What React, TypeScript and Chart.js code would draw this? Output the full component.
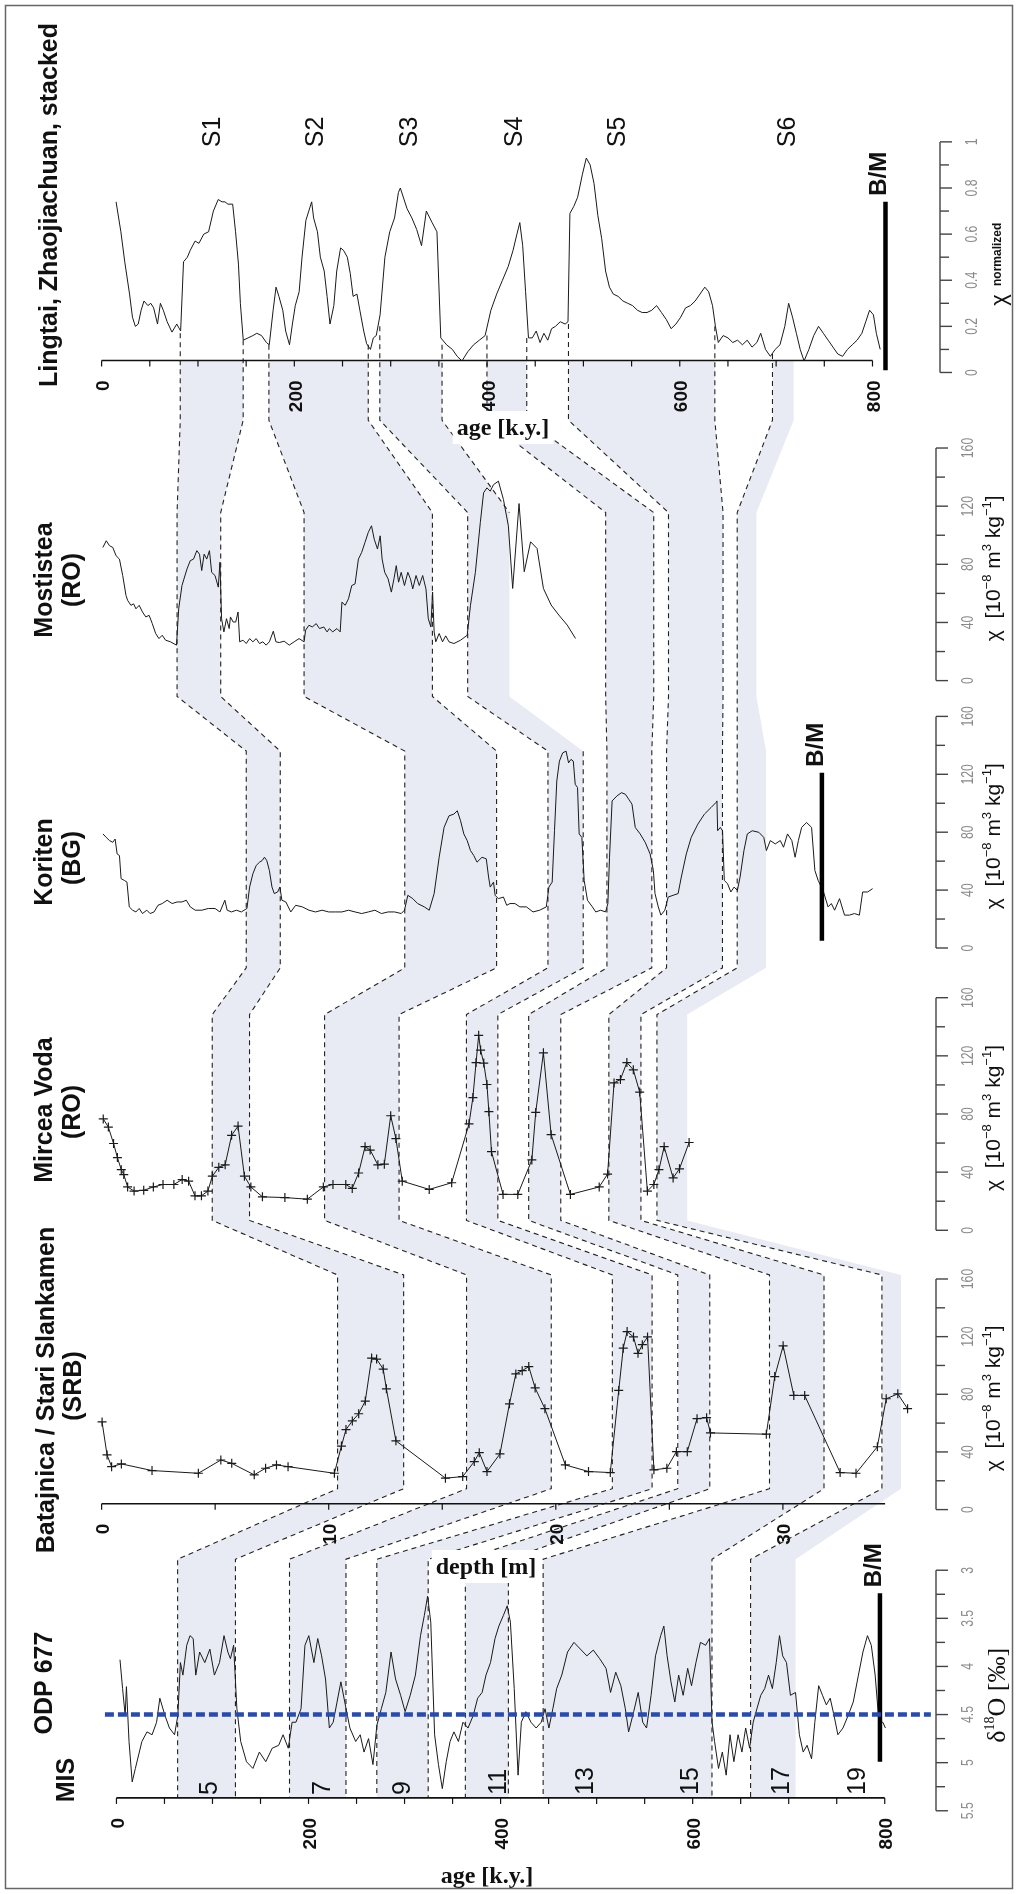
import React, { useEffect, useRef } from 'react';
import { Chart, registerables } from 'chart.js';

Chart.register(...registerables);

const W = 1018;
const H = 1894;
const SANS = '"Liberation Sans", Arial, Helvetica, sans-serif';
const SERIF = '"Liberation Serif", "Times New Roman", Times, serif';

// ---------------- series (x, value) ----------------
// Lingtai / Zhaojiachuan stack: age [k.y.], chi normalized
const lingtai: number[][] = [[15,0.74],[20,0.61],[24,0.48],[29,0.34],[32,0.24],[35,0.2],[38,0.21],[41,0.27],[44,0.31],[48,0.29],[51,0.3],[54,0.28],[58,0.21],[61,0.3],[64,0.27],[68,0.22],[73,0.175],[78,0.21],[82,0.18],[85,0.48],[89,0.5],[92,0.53],[97,0.57],[101,0.56],[106,0.6],[111,0.61],[116,0.7],[121,0.75],[125,0.74],[128,0.74],[131,0.73],[136,0.73],[139,0.61],[142,0.47],[144,0.3],[147,0.14],[152,0.15],[157,0.16],[161,0.17],[166,0.16],[171,0.13],[174,0.12],[178,0.27],[181,0.37],[184,0.33],[188,0.27],[191,0.18],[195,0.12],[198,0.21],[201,0.29],[205,0.35],[208,0.5],[212,0.66],[215,0.7],[218,0.74],[220,0.67],[224,0.61],[227,0.5],[231,0.44],[234,0.33],[237,0.21],[241,0.29],[244,0.44],[248,0.54],[251,0.53],[255,0.5],[258,0.43],[261,0.33],[265,0.34],[268,0.27],[272,0.18],[275,0.125],[279,0.1],[282,0.15],[285,0.16],[289,0.25],[294,0.5],[299,0.61],[304,0.67],[308,0.78],[310,0.8],[317,0.71],[322,0.67],[327,0.62],[332,0.55],[337,0.7],[343,0.65],[348,0.61],[352,0.15],[358,0.12],[364,0.1],[369,0.07],[374,0.05],[380,0.09],[386,0.12],[392,0.14],[398,0.16],[404,0.27],[410,0.34],[416,0.4],[422,0.46],[427,0.53],[431,0.6],[434,0.65],[437,0.55],[440,0.35],[443,0.15],[447,0.15],[451,0.18],[455,0.13],[459,0.17],[463,0.14],[467,0.19],[471,0.2],[476,0.22],[481,0.21],[484,0.22],[486,0.69],[490,0.72],[494,0.76],[499,0.86],[503,0.93],[507,0.9],[511,0.82],[515,0.68],[519,0.58],[523,0.44],[527,0.37],[531,0.34],[536,0.33],[541,0.31],[546,0.3],[551,0.29],[556,0.27],[561,0.26],[566,0.26],[571,0.27],[576,0.29],[581,0.26],[586,0.23],[591,0.19],[596,0.21],[601,0.24],[606,0.28],[611,0.29],[616,0.31],[621,0.34],[626,0.37],[630,0.35],[634,0.29],[637,0.2],[640,0.13],[645,0.16],[650,0.15],[655,0.13],[660,0.14],[665,0.12],[670,0.14],[675,0.11],[680,0.13],[684,0.17],[689,0.1],[694,0.07],[699,0.1],[704,0.12],[709,0.2],[713,0.3],[717,0.24],[721,0.17],[725,0.1],[729,0.05],[734,0.1],[739,0.16],[744,0.2],[749,0.17],[754,0.14],[759,0.11],[764,0.08],[769,0.07],[774,0.1],[779,0.12],[784,0.14],[789,0.17],[793,0.22],[797,0.27],[801,0.25],[804,0.17],[808,0.1]];

// Mostistea (RO): position along section, chi [1e-8 m3/kg]
const mostistea: number[][] = [[1.3,91.6],[4.8,96.2],[8.2,92.8],[11.6,91.6],[15,85.9],[18.5,83.6],[21.9,72.3],[25.3,58.6],[27,55.2],[30.4,51.8],[33.2,52.8],[35.6,49.4],[39,51.8],[42.4,47.2],[45.9,43.8],[49.3,44.9],[52.6,39.2],[56.1,32.4],[59.5,28.9],[62.9,31.2],[66.4,27.8],[71.5,26.7],[77.7,24.4],[80,49.4],[83.4,65.4],[88.6,76.8],[92,82.5],[95.4,83.6],[98.8,89.4],[101.6,87],[103.9,75.7],[106.4,87],[109.1,83.6],[111.9,89.4],[114.2,74.5],[117.7,72.3],[121.1,64.3],[122.8,81.4],[124.5,42.6],[126.9,33.5],[129.6,42.6],[132.4,35.8],[133.7,43.8],[136.5,40.3],[139.2,40.3],[141.6,47.2],[143.3,26.7],[146.7,27.8],[150.1,25.5],[153.6,28.9],[157,26.7],[160.4,28.9],[163.9,25.5],[167.3,26.7],[170.7,24.4],[174.1,26.7],[178.2,34],[180.9,26.7],[184.4,26.2],[189.5,27.1],[194.7,24.4],[199.8,26.7],[204.9,28.9],[210.1,26.7],[211.7,34.7],[215.2,38.1],[218.6,36.9],[222.7,39.2],[226.1,35.8],[230.6,36.9],[234,33.5],[236.4,35.8],[239.8,33.5],[244.2,35.8],[247.6,33.5],[249.4,54],[252.8,51.8],[256.2,56.3],[259.6,65.4],[263,66.5],[266.5,83.6],[269.9,88.2],[273.3,95],[276.7,101.9],[280.1,106.5],[282.9,97.3],[286.3,90.5],[289.1,99.6],[291.1,83.6],[293.8,74.5],[297.3,70],[300.7,60.9],[303.4,70],[305.8,79.1],[308.2,67.7],[310.9,74.5],[314.3,65.4],[317.8,74.5],[320.5,70],[322.9,63.1],[326.3,72.3],[329.7,65.4],[333.2,72.3],[336.6,63.1],[339,42.6],[341.7,36.9],[343.5,60.9],[345.1,33.5],[346.8,26.7],[350.3,32.4],[353.8,26.7],[357.1,30.8],[360.5,26.7],[365.6,25.5],[372.5,27.8],[379.4,31.2],[382.8,51.8],[387.9,74.5],[393,108.7],[396.4,129.2],[399.9,132.6],[403.3,130.3],[406.7,134.8],[411.8,137.2],[417,124.6],[422.1,106.5],[426.6,63.4],[433.2,121.8],[438.6,74.9],[445.2,95.5],[451.9,90.9],[458.5,63.4],[466.5,52],[474.5,45.1],[483.2,38.2],[491.8,29]];

// Koriten (BG)
const koriten: number[][] = [[1.4,78.8],[4.8,76.4],[8.2,74.2],[11.6,73],[14,75.3],[16.1,65],[18.5,63.9],[20.2,47.9],[23.6,46.7],[26.3,45.5],[28.7,28.4],[32.2,26.1],[35.6,24.9],[39,27.3],[42.4,23.8],[46.9,26.1],[50.3,23.8],[54.4,24.9],[58.5,29.5],[62.9,30.7],[68,33],[73.2,30.7],[78.3,31.8],[83.4,31.8],[87.9,33],[92,28.4],[97.2,26.1],[104,26.1],[110.8,27.3],[117.7,27.3],[122.8,24.9],[127.9,33],[130.3,26.1],[134.7,24.9],[139.9,26.1],[145,24.9],[150.8,27.3],[153.6,42.1],[157,51.3],[160.4,57],[163.9,59.3],[166.6,60.4],[169,62.7],[171.4,60.4],[174.1,53.6],[176.8,42.1],[179.2,37.6],[182.7,38.7],[185,42.1],[187.1,33],[191.2,31.8],[196.3,24.9],[201.4,29.5],[208.3,28.4],[215.2,26.1],[222,24.9],[228.8,26.1],[235.7,24.9],[242.5,24.9],[249.4,24.9],[256.2,26.1],[263,24.9],[269.9,23.8],[276.8,24.9],[283.6,26.1],[290.4,23.8],[297.3,24.9],[304.1,24.9],[310.9,23.8],[314.3,26.1],[317.8,36.4],[322.9,34.1],[328,30.7],[334.9,28.4],[340,26.1],[345.1,37.6],[350.3,62.7],[355.4,83.3],[360.5,91.3],[365.6,92.5],[369.1,94.8],[372.5,87.9],[375.9,78.8],[379.4,74.2],[382.8,67.3],[386.2,63.9],[389.6,59.3],[394.8,62.7],[399.2,61.6],[401.6,49],[403.3,42.1],[406.7,45.5],[408.4,36.4],[411.8,34.1],[417,35.2],[420.4,29.5],[423.8,30.7],[428.9,30.7],[434.1,28.4],[440.9,28.4],[447.7,24.9],[454.6,26.1],[461.5,28.4],[464.2,42.1],[467.6,45.5],[470,81],[472.4,115.4],[475.1,129.1],[478.5,134.8],[482,136],[484.6,127.9],[487.1,130.3],[489.5,129.1],[491.5,113.1],[493.9,110.8],[495.6,78.8],[498.4,76.4],[500.8,46.7],[504.2,33],[509.3,28.4],[512.8,24.9],[517.9,26.1],[523,24.9],[525.4,30.7],[527.1,62.7],[529.8,101.6],[534.9,105.1],[539.5,107.3],[543.6,106.2],[547,102.8],[550.4,99.4],[553.8,83.3],[558.9,78.8],[564.1,73],[569.2,65],[572.6,53.6],[574.3,37.6],[577.7,28.4],[580.4,22.7],[584.5,26.1],[588,35.2],[593.1,36.4],[598.3,37.6],[601.6,49],[606.8,65],[611.9,76.4],[618.8,85.6],[625.6,92.5],[632.4,97],[637.6,100.5],[638.6,101.6],[639.3,81],[642.1,83.3],[644.4,81],[646.2,46.7],[649.6,44.4],[653,38.7],[656.4,42.1],[659.8,39.8],[662.6,49],[666.6,67.3],[670.1,78.8],[675.2,81],[682.1,79.9],[687.2,76.4],[689.9,67.3],[694,74.2],[699.1,71.9],[704.3,74.2],[707.7,69.6],[711.8,78.8],[716.3,74.2],[719.7,62.7],[723.1,74.2],[726.5,83.3],[731.6,86.7],[736.8,83.3],[740.2,53.6],[743.6,46.7],[748.7,39.8],[753.9,28.4],[757.3,30.7],[760.7,26.1],[765.8,34.1],[771,22.7],[776.1,22.7],[781.2,23.8],[786.4,22.7],[789.8,38.7],[795,38.7],[800.1,41]];

// Mircea Voda (RO)
const mircea: number[][] = [[1.7,76.6],[7,71],[12.4,59.7],[16.4,50],[20.4,41.7],[23,38.3],[27,29.8],[33.7,27],[43.7,27.5],[53.7,29.8],[63.7,31.5],[75,31.5],[83.6,34.9],[90.3,33.8],[96.9,23.7],[103.6,23.7],[110.3,27],[114.9,37.2],[121.6,43.3],[128.2,45],[134.9,65.3],[141.6,71.7],[148.2,37.2],[154.9,29.8],[166.9,23],[190.2,22.5],[213.5,21.4],[230.1,29.8],[240.1,31.5],[253.4,31.5],[260.1,28.8],[266.7,39.4],[273.4,57.5],[278.7,55.2],[286.7,45],[293.4,45.5],[300,78.8],[305.4,63.1],[312,33.8],[340,28.1],[363.3,32.7],[381.3,73.2],[385.3,91.3],[388.6,115.4],[391.3,134.1],[393.3,124],[396.6,115],[399.9,100.3],[401.9,81.6],[404.6,54.1],[416.6,24.7],[431.9,24.7],[446.5,48.4],[450.5,81.1],[458.5,122.1],[466.5,65.8],[486.5,24.7],[516.4,29.8],[525.1,38.7],[531.8,101.4],[538.4,103.7],[545.1,115.4],[551.8,110.4],[558.4,95.1],[566.4,27],[573.1,31.5],[578.4,41.7],[583.8,57.5],[593.1,36],[599.7,42.3],[609.7,60.4]];

// Batajnica / Stari Slankamen (SRB): depth [m]
const batajnica: number[][] = [[0.02,60.8],[0.24,37.9],[0.44,29.8],[0.87,31.7],[2.22,27.1],[4.26,25.2],[5.25,34.4],[5.73,32.1],[6.72,24.1],[7.22,28.7],[7.7,31],[8.21,29.8],[10.25,25.2],[10.56,44.1],[10.76,55.5],[11.04,61.5],[11.32,66.5],[11.61,75.3],[11.89,105.1],[12.11,104.4],[12.4,97.5],[12.54,83.8],[12.96,47.7],[15.14,21.8],[15.9,22.9],[16.41,33.3],[16.63,39.5],[16.97,26.4],[17.54,38.6],[17.96,73.4],[18.24,94.1],[18.52,96.4],[18.81,99.2],[19.09,84.4],[19.52,70],[20.42,31],[21.44,26.4],[22.4,25.7],[22.77,82.7],[22.97,112],[23.14,123.5],[23.42,119.8],[23.62,108.4],[23.81,114.4],[24.04,119.8],[24.32,27.6],[24.89,28.7],[25.31,40.2],[25.79,40.2],[26.22,63.1],[26.64,63.8],[26.81,53.2],[29.27,52.3],[29.64,92.3],[30.01,113.6],[30.48,79.2],[30.96,79.2],[32.52,25.7],[33.22,25.2],[34.16,43.6],[34.55,76.9],[35.06,80.3],[35.49,70]];

// ODP 677: age [k.y.], d18O [permil]
const odp677: number[][] = [[3.7,3.93],[6.4,4.23],[9.1,4.51],[10.4,4.21],[13.1,4.78],[16.4,5.2],[19.7,5.06],[23.1,4.92],[26.5,4.78],[31.8,4.68],[37.1,4.71],[41.8,4.58],[45.2,4.33],[50.5,4.51],[55.2,4.64],[60.5,4.71],[63.9,4.51],[66.6,3.96],[69.2,4.09],[73.2,3.78],[76.6,3.68],[79.9,3.71],[82.6,4.09],[86.6,3.85],[92,3.96],[97.3,3.82],[102,4.09],[107.3,3.96],[112,3.68],[116,3.85],[118.7,3.92],[122,3.78],[125.4,4.44],[129.4,4.78],[135.4,4.99],[142.1,5.06],[148.8,4.89],[155.5,4.99],[162.2,4.85],[168.9,4.82],[173.5,4.71],[178.9,4.85],[182.9,4.58],[186.9,4.58],[192.2,4.44],[196.3,3.78],[200.3,3.68],[205.6,3.96],[209.6,3.71],[213.6,3.89],[217.7,4.13],[221.7,4.64],[225.7,4.58],[229.7,4.37],[233.7,4.16],[239.1,4.44],[243.1,4.64],[249.1,4.78],[253.8,4.71],[257.8,4.89],[262.5,4.75],[267.1,5.02],[271.2,4.61],[275.8,4.44],[280.5,4.27],[285.9,3.85],[290.6,4.13],[295.9,4.3],[300.6,4.47],[305.9,4.3],[311.3,4.09],[316.6,3.68],[320.6,3.47],[324,3.27],[327.3,3.54],[331.3,4.71],[335.3,5.02],[339.3,5.27],[343.4,4.99],[347.4,4.78],[351.4,4.68],[356.1,4.78],[360.8,4.58],[366.1,4.64],[371.5,4.51],[376.1,4.33],[380.8,4.27],[384.8,4.09],[389.5,3.96],[394.2,3.71],[398.2,3.58],[402.9,3.47],[406.9,3.37],[410.2,3.54],[414.2,4.23],[418.2,5.13],[421.6,4.58],[426.3,4.47],[431.6,4.58],[437,4.64],[442.3,4.58],[446.3,4.44],[450.3,4.64],[454.4,4.44],[458.4,4.23],[463.7,4.09],[469.7,3.85],[476.4,3.75],[483.1,3.82],[489.8,3.89],[496.5,3.83],[503.2,3.92],[509.8,4.02],[514.5,4.27],[519.9,4.06],[525.2,4.2],[529.9,4.44],[533.3,4.68],[538.6,4.47],[543.3,4.27],[548,4.58],[552,4.64],[556.7,4.3],[561.3,3.89],[566.7,3.68],[570,3.58],[573.4,3.89],[577.4,4.16],[581.4,4.37],[585.4,4.09],[590.1,4.3],[594.8,4.02],[598.8,4.2],[603.4,3.96],[608.1,3.75],[613.5,3.78],[617.5,3.71],[620.2,4.58],[622.8,4.78],[626.9,5.06],[630.9,4.89],[634.9,5.13],[638.9,4.71],[642.9,4.99],[647.3,4.71],[651.3,4.89],[655.2,4.64],[659.3,4.85],[663,4.58],[666.9,4.44],[670.9,4.3],[675,4.23],[679,4.09],[683,4.23],[687,3.96],[690.4,3.68],[693.7,3.89],[697.7,3.96],[701.8,4.3],[707.1,4.27],[711.1,4.71],[715.1,4.89],[719.1,4.82],[723.8,4.96],[727.2,4.58],[731.2,4.2],[735.2,4.3],[739.2,4.4],[743.2,4.33],[747.2,4.51],[751.2,4.71],[756.5,4.64],[761.9,4.51],[767.2,4.37],[772.6,4.09],[777.3,3.85],[782,3.68],[786,3.78],[790,4.09],[794,4.58],[798,4.58],[800.7,4.64]];

// reference lines
const odpThreshold: number[][] = [[-12, 4.5], [848, 4.5]];
const bmLingtai: number[][] = [[813.5, 0.74], [813.5, 0.01]];
const bmKoriten: number[][] = [[747.5, 121], [747.5, 5]];
const bmOdp: number[][] = [[795, 3.24], [795, 4.99]];

// tick labels / annotations
const ageTicks = [0, 200, 400, 600, 800];
const depthTicks = [0, 10, 20, 30];
const soilLabels = ['S1', 'S2', 'S3', 'S4', 'S5', 'S6'];
const soilLabelAge = [113, 220, 317, 426, 533, 710];
const misLabels = ['5', '7', '9', '11', '13', '15', '17', '19'];
const misLabelAge = [95, 212, 296, 396, 486, 596, 690, 770];

// correlation boundaries at each panel: [Lingtai, Mostistea, Koriten, Mircea Voda, Batajnica(depth), ODP 677(age)]
const tieS1Left = [81.6, 78.3, 150.1, 114.8, 10.39, 63.7];
const tieS1Right = [146.9, 123.6, 185.4, 153.5, 13.3, 123.9];
const tieS2Left = [173.6, 210.1, 314.6, 231.4, 16.07, 180.2];
const tieS2Right = [276.7, 343.3, 409.9, 308.7, 19.8, 239.0];
const tieS3Left = [288.7, 379.9, 463.2, 378.6, 22.49, 271.1];
const tieS3Right = [353.3, 423.2, 499.8, 411.2, 24.24, 324.6];
const tieS4Left = [399.9, 523.1, 524.4, 443.2, 25.37, 363.3];
const tieS4Right = [441.2, 573.0, 571.0, 476.5, 26.78, 408.1];
const tieS5Left = [484.5, 588.3, 586.3, 526.4, 29.41, 444.3];
const tieS5Right = [636.4, 644.9, 644.3, 559.7, 31.81, 620.1];
const tieS6Left = [696.2, 659.6, 659.6, 576.3, 34.36, 660.3];
const tieS6Right = [718.2, 679.6, 689.6, 607.7, 35.2, 707.1];
// where the dashed ties leave the Lingtai curve
const lingtaiTieStart = [0.17, 0.14, 0.12, 0.12, 0.2, 0.12, 0.16, 0.15, 0.21, 0.2, 0.08, 0.1];

// ---------------- layout (pixels / axis levels) ----------------
const LINGTAI_AXIS_AT = 0.052;
const BATAJNICA_AXIS_AT = 4.1;
const ODP_AXIS_AT = 5.366;
const tieTop = [LINGTAI_AXIS_AT, 115.6, 136, 148.4, 162.8, 2.886];
const tieBottom = [-0.207, -10.9, -13.7, 6.8, 14.5, ODP_AXIS_AT];
const PANEL_X = ['xL', 'xL', 'xL', 'xL', 'xB', 'xO'];
const PANEL_Y = ['yL', 'yM', 'yK', 'yV', 'yB', 'yO'];
const BAND = '#e8ebf3';

function xRange(v0: number, p0: number, v1: number, p1: number) {
  const s = (p1 - p0) / (v1 - v0);
  const min = v0 - p0 / s;
  return { min, max: min + W / s };
}
function yRange(v0: number, p0: number, v1: number, p1: number) {
  const s = (p0 - p1) / (v1 - v0);
  const max = v0 + p0 / s;
  return { min: max - H / s, max };
}
function yRangeRev(v0: number, p0: number, v1: number, p1: number) {
  const s = (p1 - p0) / (v1 - v0);
  const min = v0 - p0 / s;
  return { min, max: min + H / s };
}

const pts = (a: number[][]) => a.map(([x, y]) => ({ x, y }));

function rotText(ctx: any, text: string, x: number, y: number, font: string, align: string = 'center', color = '#111', sx = 1) {
  ctx.save();
  ctx.translate(x, y);
  ctx.rotate(-Math.PI / 2);
  if (sx !== 1) ctx.scale(sx, 1);
  ctx.font = font;
  ctx.fillStyle = color;
  ctx.textAlign = align;
  ctx.textBaseline = 'alphabetic';
  ctx.fillText(text, 0, 0);
  ctx.restore();
}

function rotRuns(ctx: any, runs: any[], x: number, y: number) {
  ctx.save();
  ctx.translate(x, y);
  ctx.rotate(-Math.PI / 2);
  ctx.textAlign = 'left';
  ctx.textBaseline = 'alphabetic';
  const widths = runs.map((r) => { ctx.font = r.font; return ctx.measureText(r.text).width; });
  let cx = -widths.reduce((a: number, b: number) => a + b, 0) / 2;
  runs.forEach((r, i) => {
    ctx.font = r.font;
    ctx.fillStyle = '#111';
    ctx.fillText(r.text, cx, r.dy || 0);
    cx += widths[i];
  });
  ctx.restore();
}

const chiRuns = [
  { text: 'χ  [10', font: `21px ${SANS}` },
  { text: '−8', font: `13px ${SANS}`, dy: -9 },
  { text: ' m', font: `21px ${SANS}` },
  { text: '3', font: `13px ${SANS}`, dy: -9 },
  { text: ' kg', font: `21px ${SANS}` },
  { text: '−1', font: `13px ${SANS}`, dy: -9 },
  { text: ']', font: `21px ${SANS}` },
];
const d18ORuns = [
  { text: 'δ', font: `26px ${SERIF}` },
  { text: '18', font: `14px ${SERIF}`, dy: -11 },
  { text: 'O [‰]', font: `26px ${SERIF}` },
];

function bottomAxis(ctx: any, xs: any, yPx: number, from: number, to: number, minor: number, labels: number[]) {
  ctx.save();
  ctx.strokeStyle = '#111';
  ctx.lineWidth = 1.6;
  ctx.beginPath();
  ctx.moveTo(xs.getPixelForValue(from), yPx);
  ctx.lineTo(xs.getPixelForValue(to), yPx);
  ctx.stroke();
  ctx.lineWidth = 1.2;
  const n = Math.floor((to - from) / minor + 1e-6);
  for (let i = 0; i <= n; i++) {
    const x = xs.getPixelForValue(from + i * minor);
    ctx.beginPath();
    ctx.moveTo(x, yPx);
    ctx.lineTo(x, yPx + 6);
    ctx.stroke();
  }
  ctx.restore();
  labels.forEach((v) => rotText(ctx, String(v), xs.getPixelForValue(v) + 7.5, yPx + 20, `bold 19px ${SANS}`, 'right'));
}

function rightAxis(ctx: any, ys: any, xPx: number, from: number, to: number, minor: number, every: number, fmt: (v: number) => string) {
  const n = Math.round((to - from) / minor);
  ctx.save();
  ctx.strokeStyle = '#444';
  ctx.lineWidth = 1.4;
  ctx.beginPath();
  ctx.moveTo(xPx, ys.getPixelForValue(from));
  ctx.lineTo(xPx, ys.getPixelForValue(to));
  ctx.stroke();
  for (let i = 0; i <= n; i++) {
    const v = from + i * minor;
    const y = ys.getPixelForValue(v);
    const major = i % every === 0;
    ctx.beginPath();
    ctx.moveTo(xPx, y);
    ctx.lineTo(xPx + (major ? 12 : 9), y);
    ctx.stroke();
    if (major) rotText(ctx, fmt(v), xPx + 37, y, `17px ${SANS}`, 'center', '#8a8a8a', 0.72);
  }
  ctx.restore();
}

function boxedText(ctx: any, text: string, cx: number, baseY: number) {
  ctx.save();
  ctx.font = `bold 24px ${SERIF}`;
  const w = ctx.measureText(text).width;
  ctx.fillStyle = '#fff';
  ctx.fillRect(cx - w / 2 - 4, baseY - 24, w + 8, 33);
  ctx.fillStyle = '#111';
  ctx.textAlign = 'center';
  ctx.textBaseline = 'alphabetic';
  ctx.fillText(text, cx, baseY);
  ctx.restore();
}

const tieBoundaries = [tieS1Left, tieS1Right, tieS2Left, tieS2Right, tieS3Left, tieS3Right, tieS4Left, tieS4Right, tieS5Left, tieS5Right, tieS6Left, tieS6Right];
const tieHiddenSegments: Record<number, number[]> = { 5: [2, 3], 11: [0, 1, 2, 3, 4, 5, 6, 7, 8, 9, 10] };

function tiePixels(chart: any, vals: number[], tops: number[]) {
  const out: { x: number; y: number }[] = [];
  vals.forEach((v, i) => {
    const xs = chart.scales[PANEL_X[i]];
    const ys = chart.scales[PANEL_Y[i]];
    const px = xs.getPixelForValue(v);
    out.push({ x: px, y: ys.getPixelForValue(tops[i]) });
    out.push({ x: px, y: ys.getPixelForValue(tieBottom[i]) });
  });
  return out;
}

const figurePlugin = {
  id: 'figure',
  beforeDatasetsDraw(chart: any) {
    const ctx = chart.ctx;
    // shaded soil bands
    ctx.save();
    ctx.fillStyle = BAND;
    for (let b = 0; b < 6; b++) {
      const l = tiePixels(chart, tieBoundaries[2 * b], tieTop);
      const r = tiePixels(chart, tieBoundaries[2 * b + 1], tieTop).reverse();
      ctx.beginPath();
      [...l, ...r].forEach((p, i) => (i === 0 ? ctx.moveTo(p.x, p.y) : ctx.lineTo(p.x, p.y)));
      ctx.closePath();
      ctx.fill();
    }
    ctx.restore();
    // dashed correlation lines
    ctx.save();
    ctx.strokeStyle = '#222';
    ctx.lineWidth = 1.1;
    ctx.setLineDash([5, 4]);
    tieBoundaries.forEach((vals, bi) => {
      const tops = [lingtaiTieStart[bi], ...tieTop.slice(1)];
      const p = tiePixels(chart, vals, tops);
      const hidden = tieHiddenSegments[bi] || [];
      ctx.beginPath();
      let open = false;
      for (let k = 0; k < p.length - 1; k++) {
        if (hidden.includes(k)) { open = false; continue; }
        if (!open) { ctx.moveTo(p[k].x, p[k].y); open = true; }
        ctx.lineTo(p[k + 1].x, p[k + 1].y);
      }
      ctx.stroke();
    });
    ctx.restore();
  },
  afterDatasetsDraw(chart: any) {
    const ctx = chart.ctx;
    const s = chart.scales;
    // horizontal axes
    bottomAxis(ctx, s.xL, s.yL.getPixelForValue(LINGTAI_AXIS_AT), 0, 800, 50, ageTicks);
    bottomAxis(ctx, s.xB, s.yB.getPixelForValue(BATAJNICA_AXIS_AT), 0, 34.5, 5, depthTicks);
    bottomAxis(ctx, s.xO, s.yO.getPixelForValue(ODP_AXIS_AT), 0, 800, 50, ageTicks);
    // value axes
    const fmt1 = (v: number) => (Math.abs(v - Math.round(v)) < 1e-6 ? String(Math.round(v)) : v.toFixed(1));
    rightAxis(ctx, s.yL, 940, 0, 1, 0.1, 2, fmt1);
    rightAxis(ctx, s.yM, 936, 0, 160, 20, 2, fmt1);
    rightAxis(ctx, s.yK, 936, 0, 160, 20, 2, fmt1);
    rightAxis(ctx, s.yV, 936, 0, 160, 20, 2, fmt1);
    rightAxis(ctx, s.yB, 936, 0, 160, 20, 2, fmt1);
    rightAxis(ctx, s.yO, 936, 3, 5.5, 0.25, 2, fmt1);
    // axis titles on the right
    rotText(ctx, 'χ', 1006, 300, `22px ${SANS}`, 'center');
    rotText(ctx, 'normalized', 1001, 286, `bold 12px ${SANS}`, 'left');
    [s.yM, s.yK, s.yV, s.yB].forEach((ys: any) => rotRuns(ctx, chiRuns, 1000, ys.getPixelForValue(80) + 4));
    rotRuns(ctx, d18ORuns, 1005, s.yO.getPixelForValue(4.3));
    // panel titles
    const TF = `bold 25px ${SANS}`;
    rotText(ctx, 'Lingtai, Zhaojiachuan, stacked', 57, 205, TF);
    rotText(ctx, 'Mostistea', 52, 580, TF);
    rotText(ctx, '(RO)', 80, 580, TF);
    rotText(ctx, 'Koriten', 52, 862, TF);
    rotText(ctx, '(BG)', 80, 858, TF);
    rotText(ctx, 'Mircea Voda', 52, 1110, TF);
    rotText(ctx, '(RO)', 80, 1112, TF);
    rotText(ctx, 'Batajnica / Stari Slankamen', 54, 1390, TF);
    rotText(ctx, '(SRB)', 81, 1386, TF);
    rotText(ctx, 'ODP 677', 52, 1683, TF);
    rotText(ctx, 'MIS', 74, 1780, TF);
    // soil labels
    soilLabels.forEach((t, i) => rotText(ctx, t, s.xL.getPixelForValue(soilLabelAge[i]) + 9.5, 132, `25px ${SANS}`, 'center'));
    // MIS numbers
    const odpAxisY = s.yO.getPixelForValue(ODP_AXIS_AT);
    misLabels.forEach((t, i) => rotText(ctx, t, s.xO.getPixelForValue(misLabelAge[i]) + 9.5, odpAxisY - 3, `25px ${SANS}`, 'left'));
    // B/M labels
    const bm = (xs: any, ys: any, line: number[][]) => {
      const x = xs.getPixelForValue(line[0][0]);
      const y = ys.getPixelForValue(line[0][1]);
      rotText(ctx, 'B/M', x + 1, y - 6, `bold 24px ${SANS}`, 'left');
    };
    bm(s.xL, s.yL, bmLingtai);
    bm(s.xL, s.yK, bmKoriten);
    bm(s.xO, s.yO, bmOdp);
    // axis names
    boxedText(ctx, 'age [k.y.]', 503, 435);
    boxedText(ctx, 'depth [m]', 486, 1574);
    boxedText(ctx, 'age [k.y.]', 487, 1883);
    // frame
    ctx.save();
    ctx.strokeStyle = '#666';
    ctx.lineWidth = 1.5;
    ctx.strokeRect(5.5, 5.5, W - 11, H - 11);
    ctx.restore();
  },
};

const series = (data: number[][], xAxisID: string, yAxisID: string, extra: any = {}) => ({
  data: pts(data),
  xAxisID,
  yAxisID,
  showLine: true,
  borderColor: '#1a1a1a',
  borderWidth: 1,
  pointRadius: 0,
  tension: 0,
  fill: false,
  order: 2,
  ...extra,
});

const cross = { pointStyle: 'cross', pointRadius: 4.5, pointBorderWidth: 1.2, pointBorderColor: '#1a1a1a', pointBackgroundColor: '#1a1a1a' };
const bmStyle = { borderColor: '#000', borderWidth: 4.5, order: 1 };

export default function App() {
  const ref = useRef<HTMLCanvasElement>(null);
  useEffect(() => {
    if (!ref.current) return;
    const chart = new Chart(ref.current, {
      type: 'scatter',
      data: {
        datasets: [
          series(odpThreshold, 'xO', 'yO', { borderColor: '#2b4ba8', borderWidth: 4.5, borderDash: [9, 4], order: 0 }),
          series(bmLingtai, 'xL', 'yL', bmStyle),
          series(bmKoriten, 'xL', 'yK', bmStyle),
          series(bmOdp, 'xO', 'yO', bmStyle),
          series(lingtai, 'xL', 'yL'),
          series(mostistea, 'xL', 'yM'),
          series(koriten, 'xL', 'yK'),
          series(mircea, 'xL', 'yV', cross),
          series(batajnica, 'xB', 'yB', cross),
          series(odp677, 'xO', 'yO'),
        ] as any,
      },
      options: {
        animation: false,
        responsive: true,
        maintainAspectRatio: false,
        events: [],
        layout: { padding: 0 },
        plugins: { legend: { display: false }, tooltip: { enabled: false }, title: { display: false } },
        scales: {
          xL: { type: 'linear', axis: 'x', display: false, ...xRange(0, 97, 800, 876.6) },
          xB: { type: 'linear', axis: 'x', display: false, ...xRange(0, 97, 30, 786) },
          xO: { type: 'linear', axis: 'x', display: false, ...xRange(0, 112, 800, 889) },
          yL: { type: 'linear', axis: 'y', display: false, ...yRange(0, 369, 1, 137) },
          yM: { type: 'linear', axis: 'y', display: false, ...yRange(0, 679, 160, 445) },
          yK: { type: 'linear', axis: 'y', display: false, ...yRange(0, 948, 160, 715) },
          yV: { type: 'linear', axis: 'y', display: false, ...yRange(0, 1232, 160, 998) },
          yB: { type: 'linear', axis: 'y', display: false, ...yRange(0, 1513, 160, 1281) },
          yO: { type: 'linear', axis: 'y', display: false, reverse: true, ...yRangeRev(3, 1574, 5.5, 1816) },
        } as any,
      },
      plugins: [figurePlugin],
    } as any);
    return () => chart.destroy();
  }, []);
  return (
    <div style={{ position: 'absolute', left: 0, top: 0, width: W, height: H, background: '#fff' }}>
      <canvas ref={ref} />
    </div>
  );
}
